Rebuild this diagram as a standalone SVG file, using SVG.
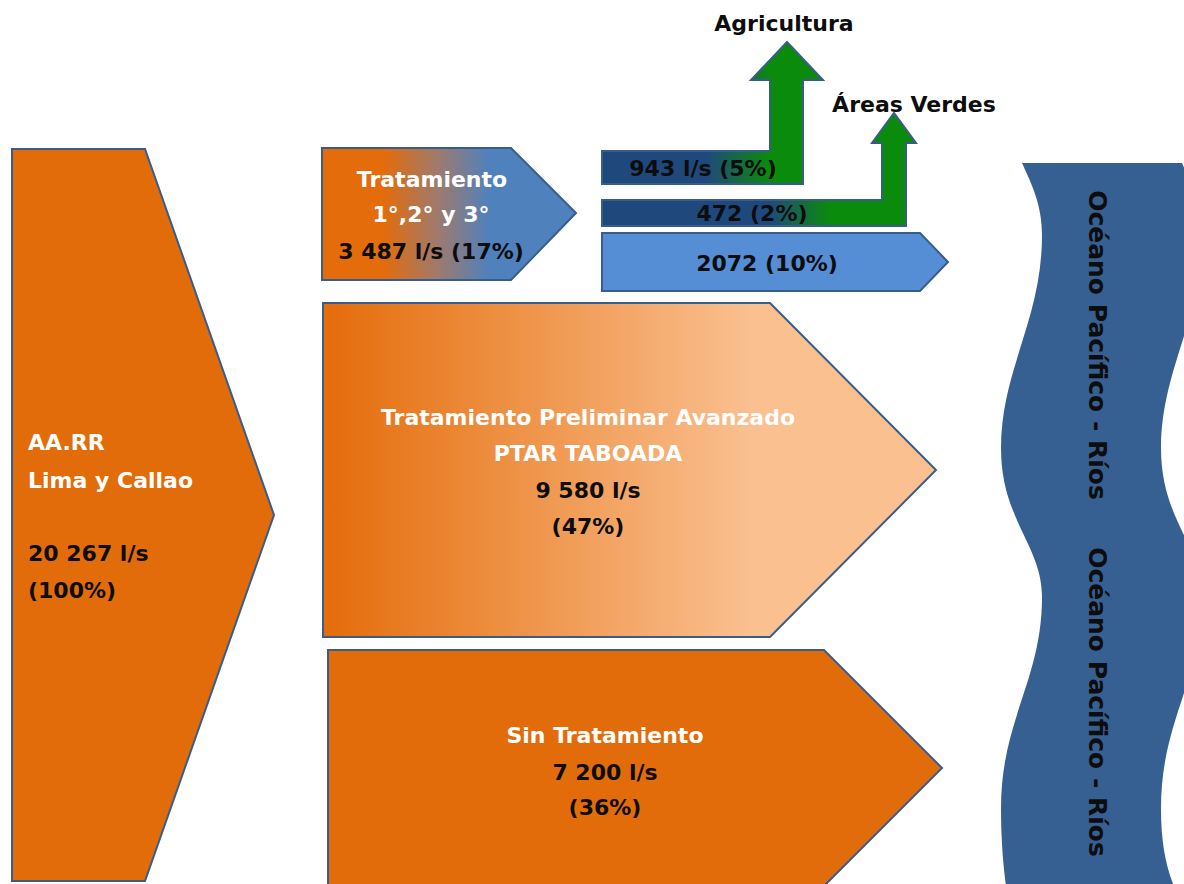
<svg xmlns="http://www.w3.org/2000/svg" width="1184" height="884" viewBox="0 0 1184 884">
<defs>
<linearGradient id="gTop" gradientUnits="userSpaceOnUse" x1="322" y1="0" x2="576" y2="0">
<stop offset="0" stop-color="#E46C0A"/><stop offset="0.24" stop-color="#E46C0A"/><stop offset="0.45" stop-color="#A07A6A"/><stop offset="0.66" stop-color="#4F81BD"/><stop offset="1" stop-color="#4F81BD"/>
</linearGradient>
<linearGradient id="gPtar" gradientUnits="userSpaceOnUse" x1="323" y1="0" x2="936" y2="0">
<stop offset="0" stop-color="#E46C0A"/><stop offset="0.7" stop-color="#FAC090"/><stop offset="1" stop-color="#FAC090"/>
</linearGradient>
<linearGradient id="gAgr" gradientUnits="userSpaceOnUse" x1="602" y1="0" x2="823" y2="0">
<stop offset="0" stop-color="#1F497D"/><stop offset="0.47" stop-color="#1F497D"/><stop offset="0.76" stop-color="#0B8B0B"/><stop offset="1" stop-color="#0B8B0B"/>
</linearGradient>
<linearGradient id="gVer" gradientUnits="userSpaceOnUse" x1="602" y1="0" x2="916" y2="0">
<stop offset="0" stop-color="#1F497D"/><stop offset="0.53" stop-color="#1F497D"/><stop offset="0.73" stop-color="#0B8B0B"/><stop offset="1" stop-color="#0B8B0B"/>
</linearGradient>
</defs>
<style>
.sh{stroke:#385D8A;stroke-width:2;stroke-linejoin:miter}
.or{fill:#E36C0A}
.t{font-family:"DejaVu Sans","Liberation Sans",sans-serif;font-weight:bold;font-size:22px}
.v{font-size:25px}
.w{fill:#FFFFFF}
.k{fill:#0D0D0D}
.c{text-anchor:middle}
</style>
<rect width="1184" height="884" fill="#FFFFFF"/>

<g id="oceano">
<path fill="#376092" d="M1022,163 L1182,163 C1192,185 1202,205 1202,235 C1202,320 1161,370 1161,448 C1161,520 1202,545 1202,597 C1202,680 1161,720 1161,808 C1161,850 1168,875 1180,900 L1008,900 C1005,880 1001,850 1001,808 C1001,720 1042,680 1042,597 C1042,545 1001,520 1001,448 C1001,370 1042,320 1042,235 C1042,205 1032,185 1022,163 Z"/>
<text class="t v k c" transform="translate(1089,345) rotate(90)" x="0" y="0">Océano Pacífico - Ríos</text>
<text class="t v k c" transform="translate(1089,702) rotate(90)" x="0" y="0">Océano Pacífico - Ríos</text>
</g>

<g id="aarr">
<polygon class="sh or" points="12,149 145,149 274,515 145,881 12,881"/>
<text class="t w" x="28" y="450">AA.RR</text>
<text class="t w" x="28" y="488">Lima y Callao</text>
<text class="t k" x="28" y="561">20 267 l/s</text>
<text class="t k" x="28" y="598">(100%)</text>
</g>

<g id="tratamiento">
<polygon class="sh" fill="url(#gTop)" points="322,148 511,148 576,213 511,280 322,280"/>
<text class="t w c" x="432" y="187">Tratamiento</text>
<text class="t w c" x="431" y="222">1°,2° y 3°</text>
<text class="t k c" x="431" y="259">3 487 l/s (17%)</text>
</g>

<g id="agricultura">
<path class="sh" fill="url(#gAgr)" d="M602,151 L770,151 L770,80 L751,80 L787,42 L823,80 L803,80 L803,184 L602,184 Z"/>
<text class="t k c" x="703" y="176">943 l/s (5%)</text>
<text class="t k c" x="784" y="31">Agricultura</text>
</g>

<g id="areas-verdes">
<path class="sh" fill="url(#gVer)" d="M602,200 L882,200 L882,143 L872,143 L894,113 L916,143 L906,143 L906,226 L602,226 Z"/>
<text class="t k c" x="752" y="221">472 (2%)</text>
<text class="t k c" x="914" y="112">Áreas Verdes</text>
</g>

<g id="vertido-tratado">
<polygon class="sh" fill="#558ED5" points="602,233 920,233 948,262 920,291 602,291"/>
<text class="t k c" x="767" y="271">2072 (10%)</text>
</g>

<g id="ptar-taboada">
<polygon class="sh" fill="url(#gPtar)" points="323,303 770,303 936,470 770,637 323,637"/>
<text class="t w c" x="588" y="425">Tratamiento Preliminar Avanzado</text>
<text class="t w c" x="588" y="461">PTAR TABOADA</text>
<text class="t k c" x="588" y="498">9 580 l/s</text>
<text class="t k c" x="588" y="534">(47%)</text>
</g>

<g id="sin-tratamiento">
<polygon class="sh or" points="328,650 824,650 942,768 824,886 328,886"/>
<text class="t w c" x="605" y="743">Sin Tratamiento</text>
<text class="t k c" x="605" y="780">7 200 l/s</text>
<text class="t k c" x="605" y="815">(36%)</text>
</g>

<g id="connectors"></g>
</svg>
